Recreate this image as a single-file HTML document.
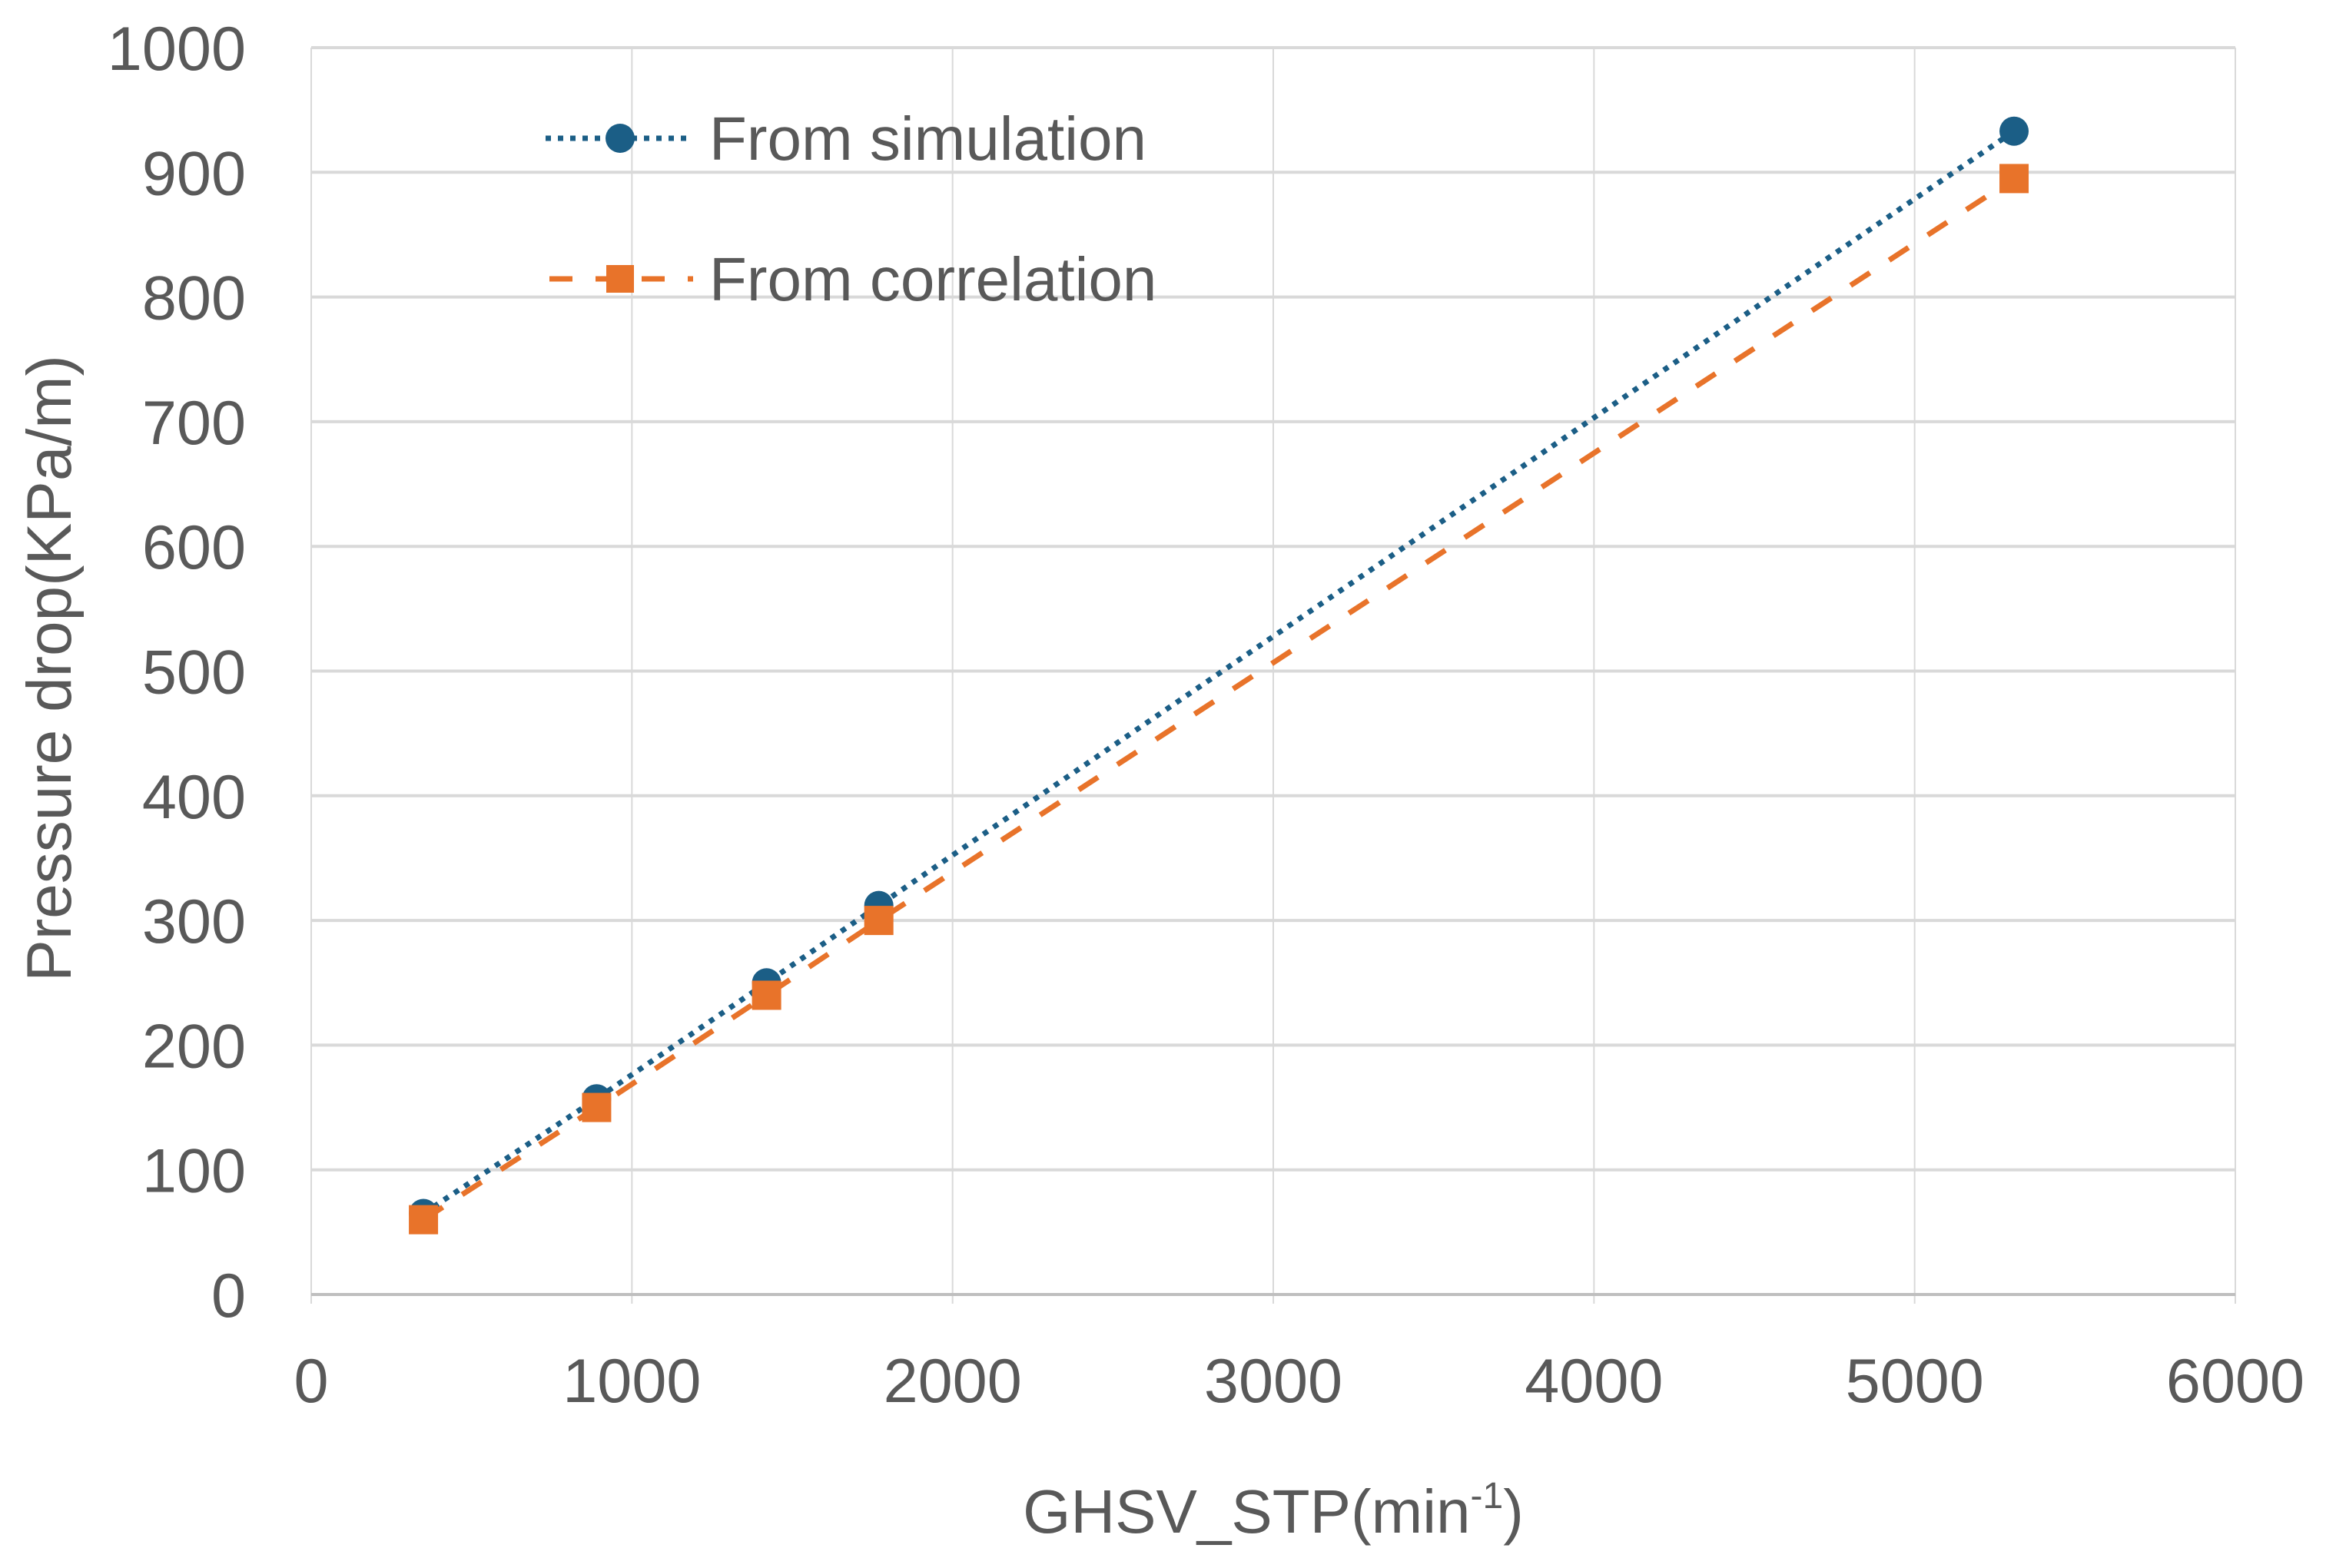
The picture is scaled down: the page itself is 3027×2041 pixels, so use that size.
<!DOCTYPE html>
<html><head><meta charset="utf-8"><style>
html,body{margin:0;padding:0;background:#fff;}
svg{display:block;font-family:"Liberation Sans",sans-serif;}
</style></head><body>
<svg id="chart" width="3027" height="2041" viewBox="0 0 3027 2041" xmlns="http://www.w3.org/2000/svg">
<g id="grid"></g>
<g id="ticks"></g>
<g id="series"></g>
<text transform="translate(92,870) rotate(-90)" text-anchor="middle" font-size="82" fill="#595959">Pressure drop(KPa/m)</text>
<text x="1657" y="1995" text-anchor="middle" font-size="80" fill="#595959">GHSV_STP(min<tspan font-size="48" dy="-32">-1</tspan><tspan dy="32">)</tspan></text>
<g>
 <g>
  <line x1="710" y1="180" x2="902" y2="180" stroke="#1b5e86" stroke-width="7" stroke-dasharray="7,9"/>
  <circle cx="807" cy="180" r="19" fill="#1b5e86"/>
  <text x="923" y="208" font-size="80" fill="#595959">From simulation</text>
 </g>
 <g>
  <line x1="710" y1="363" x2="902" y2="363" stroke="#e8732a" stroke-width="7" stroke-dasharray="30,30" stroke-dashoffset="-5"/>
  <rect x="789" y="345" width="36" height="36" fill="#e8732a"/>
  <text x="923" y="391" font-size="80" fill="#595959">From correlation</text>
 </g>
</g>
</svg>
<script>
const xTicks=[0,1000,2000,3000,4000,5000,6000];
const yTicks=[0,100,200,300,400,500,600,700,800,900,1000];
const ghsv=[350,890,1420,1770,5310];
const simValues=[65,157,250,312,933];
const corrValues=[60,150,240,300,895];
const X0=405,X1=2909,Y0=1685,Y1=62;
const sx=v=>X0+(v-0)/(6000)*(X1-X0);
const sy=v=>Y0-(v/1000)*(Y0-Y1);
const NS="http://www.w3.org/2000/svg";
function mk(tag,attrs,parent){const e=document.createElementNS(NS,tag);for(const k in attrs)e.setAttribute(k,attrs[k]);parent.appendChild(e);return e;}
const grid=document.getElementById('grid'),ticks=document.getElementById('ticks'),series=document.getElementById('series');
xTicks.forEach(t=>{
 const l=mk('line',{x1:sx(t),x2:sx(t),y1:Y1,y2:Y0+12,stroke:'#d9d9d9','stroke-width':2},grid);
 
 
 const tx=mk('text',{x:sx(t),y:1825,'text-anchor':'middle','font-size':81,fill:'#595959'},ticks);
 tx.textContent=t;
 
 
});
yTicks.forEach(t=>{
 const l=mk('line',{x1:X0,x2:X1,y1:sy(t),y2:sy(t),stroke:t===0?'#bfbfbf':'#d9d9d9','stroke-width':4},grid);
 
 
 const tx=mk('text',{x:320,y:sy(t)+29,'text-anchor':'end','font-size':81,fill:'#595959'},ticks);
 tx.textContent=t;
 
 
});
function pts(vals){return ghsv.map((g,i)=>sx(g)+','+sy(vals[i])).join(' ');}
const simLine=mk('polyline',{points:pts(simValues),fill:'none',stroke:'#1b5e86','stroke-width':7,'stroke-dasharray':'7,9'},series);


simValues.forEach((v,i)=>{
 const c=mk('circle',{cx:sx(ghsv[i]),cy:sy(v),r:19,fill:'#1b5e86'},series);
 
 
});
const corrLine=mk('polyline',{points:pts(corrValues),fill:'none',stroke:'#e8732a','stroke-width':7,'stroke-dasharray':'30,30'},series);


corrValues.forEach((v,i)=>{
 const r=mk('rect',{x:sx(ghsv[i])-19,y:sy(v)-19,width:38,height:38,fill:'#e8732a'},series);
 
 
});
</script>
</body></html>
